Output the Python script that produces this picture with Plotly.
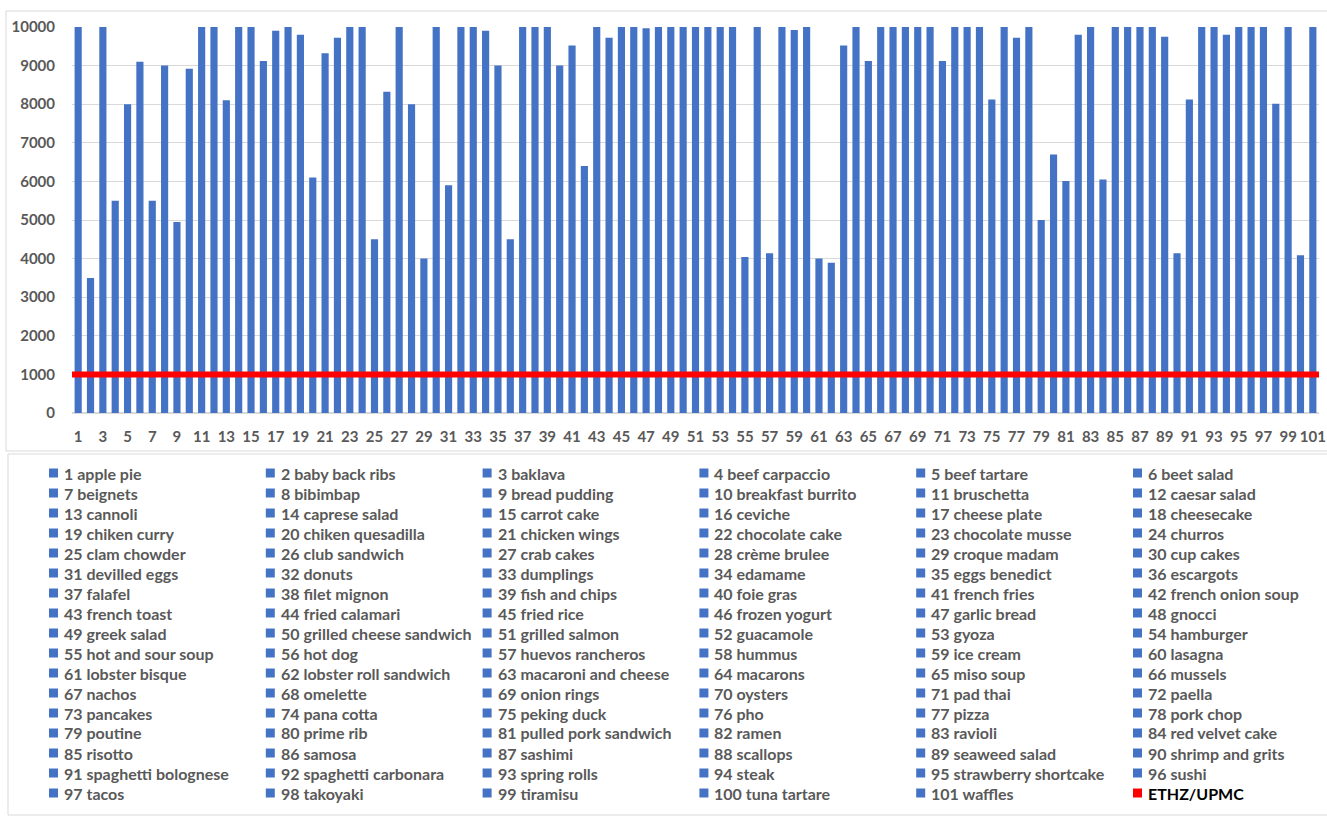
import plotly.graph_objects as go

# Food-101 classes and the number of images gathered for each
classes = [
    "apple pie", "baby back ribs", "baklava", "beef carpaccio", "beef tartare", "beet salad",
    "beignets", "bibimbap", "bread pudding", "breakfast burrito", "bruschetta", "caesar salad",
    "cannoli", "caprese salad", "carrot cake", "ceviche", "cheese plate", "cheesecake",
    "chiken curry", "chiken quesadilla", "chicken wings", "chocolate cake", "chocolate musse", "churros",
    "clam chowder", "club sandwich", "crab cakes", "crème brulee", "croque madam", "cup cakes",
    "devilled eggs", "donuts", "dumplings", "edamame", "eggs benedict", "escargots",
    "falafel", "filet mignon", "fish and chips", "foie gras", "french fries", "french onion soup",
    "french toast", "fried calamari", "fried rice", "frozen yogurt", "garlic bread", "gnocci",
    "greek salad", "grilled cheese sandwich", "grilled salmon", "guacamole", "gyoza", "hamburger",
    "hot and sour soup", "hot dog", "huevos rancheros", "hummus", "ice cream", "lasagna",
    "lobster bisque", "lobster roll sandwich", "macaroni and cheese", "macarons", "miso soup", "mussels",
    "nachos", "omelette", "onion rings", "oysters", "pad thai", "paella",
    "pancakes", "pana cotta", "peking duck", "pho", "pizza", "pork chop",
    "poutine", "prime rib", "pulled pork sandwich", "ramen", "ravioli", "red velvet cake",
    "risotto", "samosa", "sashimi", "scallops", "seaweed salad", "shrimp and grits",
    "spaghetti bolognese", "spaghetti carbonara", "spring rolls", "steak", "strawberry shortcake", "sushi",
    "tacos", "takoyaki", "tiramisu", "tuna tartare", "waffles",
]

image_counts = [
    10000, 3500, 10000, 5500, 8000, 9100, 5500, 9000, 4950, 8920,
    10000, 10000, 8100, 10000, 10000, 9120, 9900, 10000, 9800, 6100,
    9320, 9720, 10000, 10000, 4500, 8320, 10000, 8000, 4000, 10000,
    5900, 10000, 10000, 9900, 9000, 4500, 10000, 10000, 10000, 9000,
    9520, 6400, 10000, 9720, 10000, 10000, 9970, 10000, 10000, 10000,
    10000, 10000, 10000, 10000, 4040, 10000, 4140, 10000, 9920, 10000,
    4000, 3890, 9520, 10000, 9120, 10000, 10000, 10000, 10000, 10000,
    9120, 10000, 10000, 10000, 8120, 10000, 9720, 10000, 5000, 6700,
    6010, 9800, 10000, 6050, 10000, 10000, 10000, 10000, 9750, 4140,
    8120, 10000, 10000, 9800, 10000, 10000, 10000, 8010, 10000, 4090,
    10000,
]

# Reference dataset size per class
baseline_name = "ETHZ/UPMC"
baseline_value = 1000

BLUE = "#4472C4"
RED = "#FF0000"
GREY_TEXT = "#595959"
FONT = "Lato"

W, H = 1327, 817
L, R, T, B = 72, 8, 27, 404
pw, ph = W - L - R, H - T - B


def px(xp):
    """pixel x -> paper x"""
    return (xp - L) / pw


def py(yp):
    """pixel y (from top) -> paper y"""
    return (H - B - yp) / ph


fig = go.Figure()

n = len(classes)
labels = [f"{i} {name}" for i, name in enumerate(classes, start=1)]
positions = list(range(1, n + 1))

for pos, label, count in zip(positions, labels, image_counts):
    fig.add_trace(go.Bar(
        x=[pos], y=[count], name=label,
        marker=dict(color=BLUE, line=dict(width=0)),
        width=0.58, showlegend=False,
    ))

fig.add_trace(go.Scatter(
    x=[0.5, n + 0.5], y=[baseline_value, baseline_value],
    mode="lines", line=dict(color=RED, width=6),
    name=baseline_name, showlegend=False, hoverinfo="skip",
))

shapes = [
    # chart box
    dict(type="rect", xref="paper", yref="paper",
         x0=px(6), x1=px(1340), y0=py(451), y1=py(11),
         line=dict(color="#D9D9D9", width=1), fillcolor="rgba(0,0,0,0)", layer="below"),
    # legend box
    dict(type="rect", xref="paper", yref="paper",
         x0=px(8), x1=px(1340), y0=py(815), y1=py(454),
         line=dict(color="#D9D9D9", width=1), fillcolor="rgba(0,0,0,0)", layer="below"),
]
annotations = []

# Six-column legend, filled row by row
legend_items = [(lbl, BLUE, GREY_TEXT) for lbl in labels] + [(baseline_name, RED, "#000000")]
col_x0, col_step = 49.0, 216.8
row_y0, row_step = 473.0, 20.0
box = 9.0
for k, (text, swatch, tcolor) in enumerate(legend_items):
    row, col = divmod(k, 6)
    xl = col_x0 + col * col_step
    yc = row_y0 + row * row_step
    shapes.append(dict(
        type="rect", xref="paper", yref="paper",
        x0=px(xl), x1=px(xl + box), y0=py(yc + box / 2), y1=py(yc - box / 2),
        line=dict(width=0), fillcolor=swatch,
    ))
    annotations.append(dict(
        xref="paper", yref="paper", x=px(xl + 13), y=py(yc),
        xanchor="left", yanchor="middle", showarrow=False, text=text,
        font=dict(family=FONT, size=16, color=tcolor, weight="bold"),
    ))

fig.update_layout(
    width=W, height=H,
    margin=dict(l=L, r=R, t=T, b=B, autoexpand=False),
    paper_bgcolor="white", plot_bgcolor="white",
    barmode="overlay",
    font=dict(family=FONT, color=GREY_TEXT, size=15, weight="bold"),
    shapes=shapes,
    annotations=annotations,
    showlegend=False,
    xaxis=dict(
        range=[0.5, n + 0.5], tickmode="linear", tick0=1, dtick=2,
        showgrid=False, zeroline=False, showline=False, ticks="",
        tickfont=dict(family=FONT, size=15, color=GREY_TEXT, weight="bold"),
        tickangle=0, ticklabelstandoff=13, ticklabeloverflow="allow",
    ),
    yaxis=dict(
        range=[0, 10000], tickmode="linear", tick0=0, dtick=1000,
        tickformat="d",
        showgrid=True, gridcolor="#D9D9D9", gridwidth=1,
        zeroline=True, zerolinecolor="#D9D9D9", showline=False, ticks="",
        tickfont=dict(family=FONT, size=15, color=GREY_TEXT, weight="bold"),
        ticklabelstandoff=16,
    ),
)

fig.write_html("out.html")
